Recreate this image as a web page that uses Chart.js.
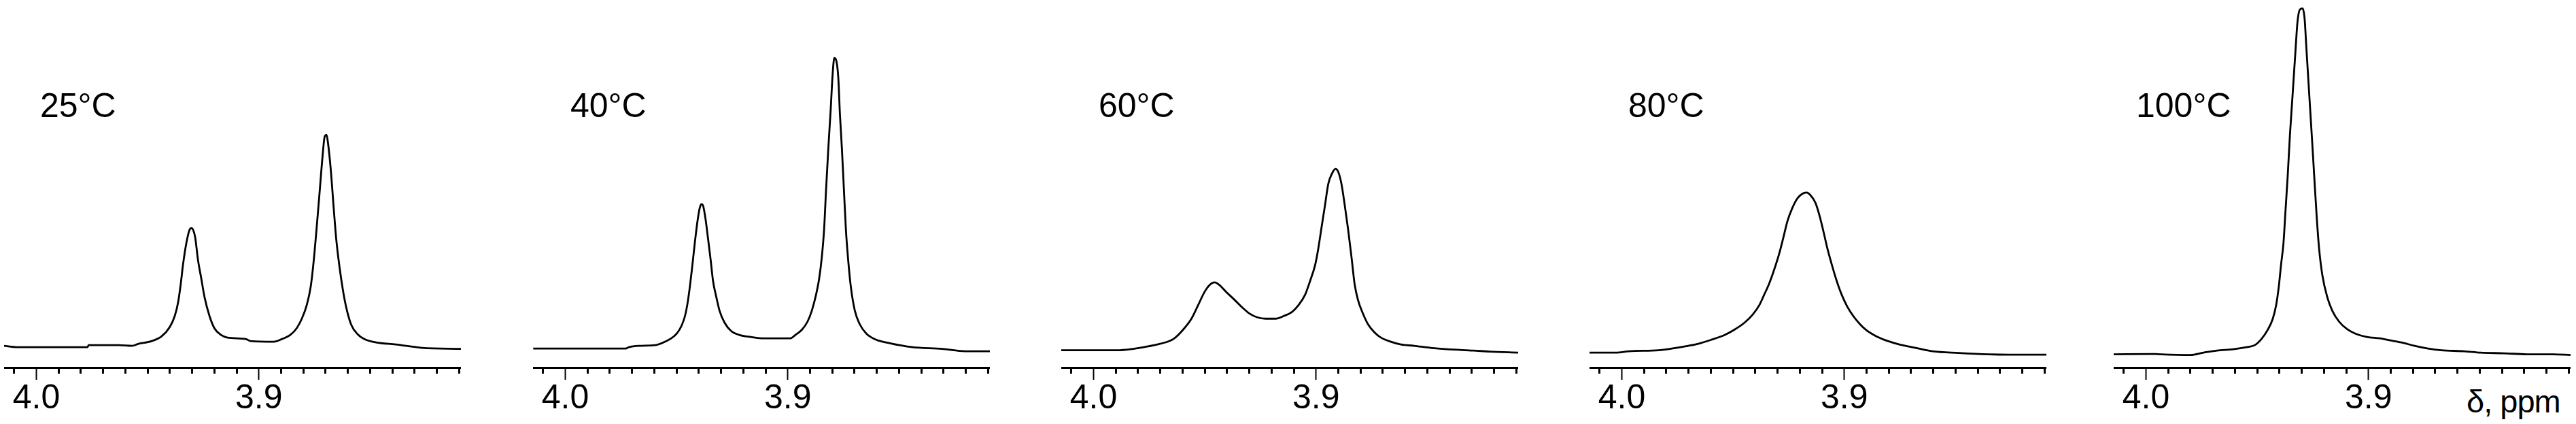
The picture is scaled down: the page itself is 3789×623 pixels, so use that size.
<!DOCTYPE html>
<html lang="en">
<head>
  <meta charset="UTF-8">
  <title>1H NMR, 3.8-4.0 ppm, 25-100 °C</title>
  <script src="https://cdn.jsdelivr.net/npm/chart.js"></script>
  <style>
    html, body { margin: 0; padding: 0; background: #fff; }
    #figure { position: relative; width: 3789px; height: 623px; background: #fff; overflow: hidden; }
    .panel { position: absolute; top: 0; width: 672px; height: 623px; }
    .temp { position: absolute; top: 130px; font: 50px/50px "Liberation Sans", Arial, sans-serif; color: #000; white-space: nowrap; }
    .unit { position: absolute; left: 3628px; top: 566px; font: 47px/47px "Liberation Sans", Arial, sans-serif; color: #000; letter-spacing: -1px; white-space: nowrap; }
  </style>
</head>
<body>
  <div id="figure">
    <div class="unit">&delta;, ppm</div>
  </div>

  <script>
    // chemical shift (ppm) and intensity
    const shift25 = [4.0145, 4.0089, 3.9770, 3.9765, 3.9630, 3.9570, 3.9541, 3.9481, 3.9437, 3.9400, 3.9378, 3.9363, 3.9351, 3.9341, 3.9326, 3.9311, 3.9304, 3.9296, 3.9286, 3.9274, 3.9259, 3.9244, 3.9222, 3.9200, 3.9170, 3.9141, 3.9059, 3.9037, 3.8933, 3.8896, 3.8859, 3.8830, 3.8807, 3.8785, 3.8767, 3.8753, 3.8738, 3.8726, 3.8714, 3.8704, 3.8696, 3.8689, 3.8677, 3.8664, 3.8652, 3.8637, 3.8622, 3.8607, 3.8585, 3.8556, 3.8526, 3.8474, 3.8385, 3.8267, 3.8092];
    const int25 = [0.0, -0.4, -0.4, 0.2, 0.2, 0.0, 0.6, 1.4, 2.8, 5.6, 8.8, 12.8, 18.3, 23.9, 30.3, 34.3, 34.7, 34.3, 31.9, 25.5, 19.9, 14.3, 8.8, 5.2, 3.2, 2.4, 2.0, 1.4, 1.2, 2.0, 3.2, 5.2, 8.0, 12.0, 17.5, 25.5, 36.7, 46.2, 55.8, 61.8, 62.2, 59.6, 52.0, 40.8, 31.2, 22.9, 16.3, 11.2, 6.2, 3.4, 2.0, 1.0, 0.4, -0.6, -0.9];

    const shift40 = [4.0144, 3.9729, 3.9714, 3.9670, 3.9596, 3.9566, 3.9529, 3.9499, 3.9477, 3.9462, 3.9450, 3.9440, 3.9430, 3.9418, 3.9406, 3.9396, 3.9388, 3.9381, 3.9370, 3.9359, 3.9347, 3.9336, 3.9321, 3.9307, 3.9284, 3.9255, 3.9218, 3.9166, 3.9107, 3.8988, 3.8966, 3.8936, 3.8911, 3.8892, 3.8873, 3.8859, 3.8847, 3.8837, 3.8828, 3.8818, 3.8807, 3.8799, 3.8791, 3.8784, 3.8773, 3.8766, 3.8757, 3.8748, 3.8739, 3.8729, 3.8717, 3.8699, 3.8677, 3.8647, 3.8610, 3.8559, 3.8499, 3.8440, 3.8307, 3.8203, 3.8092];
    const int40 = [-0.8, -0.8, -0.4, 0.0, 0.2, 0.8, 2.0, 3.6, 6.0, 8.8, 12.8, 17.5, 23.1, 30.3, 36.7, 40.6, 41.8, 41.4, 37.5, 31.9, 25.5, 19.1, 14.3, 10.4, 6.8, 4.4, 3.2, 2.6, 2.2, 2.2, 3.2, 4.8, 7.2, 10.4, 15.1, 19.9, 26.3, 34.3, 46.2, 58.2, 70.1, 79.7, 84.9, 84.5, 78.9, 68.5, 58.2, 46.2, 34.3, 25.5, 17.5, 10.4, 6.4, 3.6, 2.0, 1.0, 0.2, -0.4, -0.9, -1.6, -1.6];

    const shift60 = [4.0145, 3.9893, 3.9834, 3.9775, 3.9701, 3.9641, 3.9597, 3.9560, 3.9530, 3.9501, 3.9479, 3.9456, 3.9434, 3.9404, 3.9367, 3.9330, 3.9301, 3.9264, 3.9227, 3.9182, 3.9145, 3.9108, 3.9079, 3.9049, 3.9027, 3.9004, 3.8990, 3.8975, 3.8960, 3.8945, 3.8927, 3.8913, 3.8901, 3.8886, 3.8871, 3.8856, 3.8841, 3.8827, 3.8812, 3.8790, 3.8767, 3.8738, 3.8708, 3.8664, 3.8619, 3.8560, 3.8486, 3.8412, 3.8293, 3.8219, 3.8092];
    const int60 = [-1.3, -1.3, -1.0, -0.4, 0.6, 2.0, 4.8, 8.0, 12.0, 15.9, 17.9, 18.7, 17.9, 15.9, 13.6, 11.2, 9.6, 8.4, 8.0, 8.0, 8.8, 10.0, 12.0, 15.1, 19.1, 23.9, 28.7, 35.1, 41.4, 47.8, 51.0, 52.2, 51.4, 47.8, 41.4, 34.3, 26.3, 18.3, 13.6, 9.6, 6.4, 4.0, 2.4, 1.2, 0.4, 0.0, -0.6, -1.0, -1.4, -1.7, -2.0];

    const shift80 = [4.0145, 4.0027, 3.9967, 3.9834, 3.9775, 3.9701, 3.9656, 3.9597, 3.9538, 3.9493, 3.9449, 3.9412, 3.9382, 3.9360, 3.9338, 3.9316, 3.9293, 3.9274, 3.9256, 3.9234, 3.9212, 3.9190, 3.9170, 3.9153, 3.9130, 3.9111, 3.9093, 3.9076, 3.9056, 3.9034, 3.9012, 3.8987, 3.8960, 3.8930, 3.8901, 3.8856, 3.8804, 3.8753, 3.8679, 3.8604, 3.8486, 3.8353, 3.8264, 3.8092];
    const int80 = [-2.0, -2.0, -1.6, -1.3, -0.8, 0.0, 0.6, 1.8, 3.2, 4.8, 6.8, 9.2, 12.0, 15.1, 18.3, 22.3, 27.1, 31.9, 36.7, 40.6, 43.4, 44.8, 45.2, 44.5, 42.2, 38.3, 33.5, 28.7, 23.9, 19.1, 15.1, 11.6, 8.8, 6.4, 4.6, 2.8, 1.4, 0.4, -0.6, -1.6, -2.1, -2.5, -2.6, -2.6];

    const shift100 = [4.0145, 3.9963, 3.9933, 3.9800, 3.9741, 3.9681, 3.9607, 3.9548, 3.9511, 3.9481, 3.9452, 3.9430, 3.9415, 3.9403, 3.9393, 3.9382, 3.9373, 3.9363, 3.9353, 3.9341, 3.9329, 3.9319, 3.9308, 3.9296, 3.9287, 3.9279, 3.9267, 3.9255, 3.9244, 3.9233, 3.9222, 3.9207, 3.9185, 3.9163, 3.9133, 3.9096, 3.9059, 3.9007, 3.8948, 3.8911, 3.8852, 3.8793, 3.8733, 3.8674, 3.8570, 3.8496, 3.8393, 3.8289, 3.8170, 3.8092];
    const int100 = [-2.5, -2.4, -2.5, -2.7, -2.0, -1.4, -1.0, -0.4, 0.2, 2.0, 4.8, 8.0, 12.0, 17.5, 23.9, 30.3, 39.8, 50.2, 62.2, 74.1, 86.1, 95.6, 99.2, 99.5, 96.4, 87.7, 74.9, 62.2, 50.2, 38.3, 28.7, 20.7, 14.3, 10.4, 7.2, 4.9, 3.6, 2.6, 2.2, 1.7, 1.0, 0.0, -0.8, -1.3, -1.6, -2.0, -2.2, -2.5, -2.5, -2.7];

    const temps = ['25°C', '40°C', '60°C', '80°C', '100°C'];
    const shifts = [shift25, shift40, shift60, shift80, shift100];
    const intensities = [int25, int40, int60, int80, int100];

    // axis range shared by all panels
    const ppmLeft = 4.0145;
    const ppmRight = 3.8092;

    // layout: left edge of each axis and of each temperature label
    const panelLeft = [6, 784, 1561, 2338, 3109];
    const labelLeft = [59, 839, 1616, 2395, 3142];

    const fig = document.getElementById('figure');

    function isMajor(v) {
      return Math.abs(v * 10 - Math.round(v * 10)) < 1e-6;
    }

    function makePanel(i) {
      const box = document.createElement('div');
      box.className = 'panel';
      box.style.left = panelLeft[i] + 'px';
      const cv = document.createElement('canvas');
      cv.width = 672;
      cv.height = 623;
      box.appendChild(cv);
      fig.appendChild(box);

      const lbl = document.createElement('div');
      lbl.className = 'temp';
      lbl.style.left = labelLeft[i] + 'px';
      lbl.textContent = temps[i];
      fig.appendChild(lbl);

      const points = shifts[i].map((x, k) => ({ x: x, y: intensities[i][k] }));

      new Chart(cv.getContext('2d'), {
        type: 'line',
        data: {
          datasets: [{
            data: points,
            borderColor: '#000',
            borderWidth: 2.8,
            pointRadius: 0,
            fill: false,
            cubicInterpolationMode: 'monotone'
          }]
        },
        options: {
          responsive: false,
          animation: false,
          events: [],
          layout: { padding: { left: 0, right: 0, top: 0, bottom: 8.5 } },
          plugins: { legend: { display: false }, tooltip: { enabled: false } },
          scales: {
            x: {
              type: 'linear',
              reverse: true,
              min: ppmRight,
              max: ppmLeft,
              border: { display: true, color: '#000', width: 3 },
              grid: {
                drawOnChartArea: false,
                drawTicks: true,
                tickLength: 18,
                tickColor: '#000',
                tickWidth: ctx => isMajor(ctx.tick.value) ? 2 : 3,
                tickBorderDash: ctx => isMajor(ctx.tick.value) ? [] : [7, 40]
              },
              ticks: {
                stepSize: 0.01,
                includeBounds: false,
                autoSkip: false,
                maxRotation: 0,
                minRotation: 0,
                padding: 2,
                color: '#000',
                font: { family: 'Liberation Sans', size: 50, lineHeight: 1.05 },
                callback: v => isMajor(v) ? v.toFixed(1) : ''
              }
            },
            y: { display: false, min: -6.4, max: 102 }
          }
        }
      });
    }

    for (let i = 0; i < temps.length; i++) makePanel(i);
  </script>
</body>
</html>
